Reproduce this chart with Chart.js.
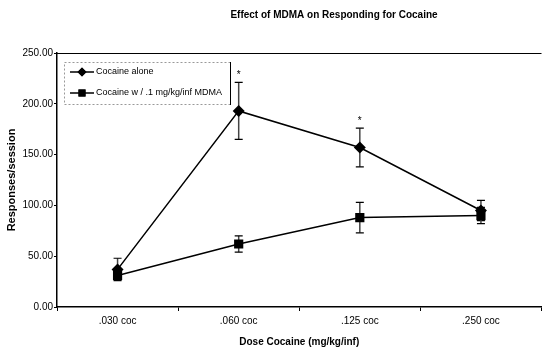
<!DOCTYPE html>
<html>
<head>
<meta charset="utf-8">
<script src="https://cdn.jsdelivr.net/npm/chart.js@4"></script>
<style>
  html, body { margin: 0; padding: 0; background: #fff; }
  #wrap { width: 548px; height: 348px; }
</style>
</head>
<body>
<div id="wrap"><canvas id="chart" width="548" height="348"></canvas></div>
<script>
// data
var doses = ['.030 coc', '.060 coc', '.125 coc', '.250 coc'];
var aloneMean = [37, 193, 157, 95];
var aloneErr = [11, 28, 19, 10];
var mdmaMean = [31, 62, 88, 90];
var mdmaErr = [4, 8, 15, 8];
var starred = [false, true, true, false]; // * marks on Cocaine alone
var yTicks = [0, 50, 100, 150, 200, 250];

var fontName = '"Liberation Sans", Arial, sans-serif';

// error bars + stars, drawn under the markers
var errorBars = {
  id: 'errorBars',
  beforeDatasetsDraw: function(chart) {
    var ctx = chart.ctx;
    var x = chart.scales.x, y = chart.scales.y;
    var sets = [[aloneMean, aloneErr], [mdmaMean, mdmaErr]];
    ctx.save();
    sets.forEach(function(s) {
      for (var i = 0; i < s[0].length; i++) {
        var px = x.getPixelForValue(i);
        var top = y.getPixelForValue(s[0][i] + s[1][i]);
        var bot = y.getPixelForValue(s[0][i] - s[1][i]);
        ctx.strokeStyle = '#444';
        ctx.lineWidth = 1.5;
        ctx.beginPath();
        ctx.moveTo(px, top); ctx.lineTo(px, bot);
        ctx.stroke();
        ctx.strokeStyle = '#000';
        ctx.lineWidth = 1.2;
        ctx.beginPath();
        ctx.moveTo(px - 4, top); ctx.lineTo(px + 4, top);
        ctx.moveTo(px - 4, bot); ctx.lineTo(px + 4, bot);
        ctx.stroke();
      }
    });
    ctx.fillStyle = '#000';
    ctx.font = '10px ' + fontName;
    ctx.textAlign = 'center';
    ctx.textBaseline = 'middle';
    for (var i = 0; i < starred.length; i++) {
      if (!starred[i]) continue;
      var px = x.getPixelForValue(i);
      var top = y.getPixelForValue(aloneMean[i] + aloneErr[i]);
      ctx.fillText('*', px, top - 7);
    }
    ctx.restore();
  }
};

// title, top frame line and the boxed legend
var extras = {
  id: 'extras',
  afterDraw: function(chart) {
    var ctx = chart.ctx;
    var area = chart.chartArea;
    ctx.save();
    ctx.strokeStyle = '#000';
    ctx.lineWidth = 1;
    ctx.beginPath();
    ctx.moveTo(area.left, area.top + 0.5);
    ctx.lineTo(area.right, area.top + 0.5);
    ctx.stroke();

    ctx.fillStyle = '#000';
    ctx.font = 'bold 10px ' + fontName;
    ctx.textAlign = 'center';
    ctx.textBaseline = 'middle';
    ctx.fillText('Effect of MDMA on Responding for Cocaine', 334, 15);

    // legend box
    var bx = 64, by = 62, bw = 166, bh = 42;
    ctx.strokeStyle = '#999';
    ctx.setLineDash([2, 2]);
    ctx.strokeRect(bx + 0.5, by + 0.5, bw, bh);
    ctx.setLineDash([]);
    ctx.strokeStyle = '#000';
    ctx.beginPath();
    ctx.moveTo(bx + bw + 0.5, by); ctx.lineTo(bx + bw + 0.5, by + bh + 1);
    ctx.stroke();

    var items = chart.data.datasets;
    ctx.font = '9px ' + fontName;
    ctx.textAlign = 'left';
    items.forEach(function(ds, k) {
      var ly = 72 + k * 21;
      ctx.strokeStyle = '#000';
      ctx.lineWidth = 1.5;
      ctx.beginPath();
      ctx.moveTo(70, ly); ctx.lineTo(94, ly);
      ctx.stroke();
      ctx.fillStyle = '#000';
      Chart.helpers.drawPoint(ctx, { pointStyle: ds.pointStyle, radius: ds.pointRadius - 1.5, borderWidth: 0 }, 82, ly);
      ctx.fill();
      ctx.fillText(ds.label, 96, ly);
    });
    ctx.restore();
  }
};

var ctx = document.getElementById('chart').getContext('2d');
var myChart = new Chart(ctx, {
  type: 'line',
  data: {
    labels: doses,
    datasets: [{
      label: 'Cocaine alone',
      data: aloneMean,
      borderColor: '#000',
      borderWidth: 1.5,
      backgroundColor: '#000',
      pointStyle: 'rectRot',
      pointRadius: 6,
      pointBorderWidth: 0,
      tension: 0
    }, {
      label: 'Cocaine w / .1 mg/kg/inf MDMA',
      data: mdmaMean,
      borderColor: '#000',
      borderWidth: 1.5,
      backgroundColor: '#000',
      pointStyle: 'rect',
      pointRadius: 6.5,
      pointBorderWidth: 0,
      tension: 0
    }]
  },
  options: {
    responsive: false,
    animation: false,
    layout: { padding: { top: 53, right: 0, left: 0, bottom: 0 } },
    plugins: {
      legend: { display: false },
      tooltip: { enabled: false }
    },
    scales: {
      x: {
        type: 'category',
        offset: true,
        grid: { display: true, drawOnChartArea: false, drawTicks: true, tickLength: 4, color: '#000', offset: true },
        border: { display: true, color: '#000', width: 1.5 },
        ticks: { color: '#000', font: { family: fontName, size: 10 }, padding: 4, maxRotation: 0 },
        title: { display: true, text: 'Dose Cocaine (mg/kg/inf)', color: '#000', font: { family: fontName, size: 10, weight: 'bold' }, padding: { top: 0, bottom: 0 } },
        afterFit: function(scale) { scale.height = 41; }
      },
      y: {
        min: 0,
        max: 250,
        afterBuildTicks: function(scale) {
          scale.ticks = yTicks.map(function(v) { return { value: v }; });
        },
        grid: { display: true, drawOnChartArea: false, drawTicks: true, tickLength: 3, color: '#000' },
        border: { display: true, color: '#000', width: 1.5 },
        ticks: {
          color: '#000',
          font: { family: fontName, size: 10 },
          padding: 1,
          callback: function(v) { return Number(v).toFixed(2); }
        },
        title: { display: true, text: 'Responses/session', color: '#000', font: { family: fontName, size: 11, weight: 'bold' }, padding: { top: 5, bottom: 0 } },
        afterFit: function(scale) { scale.width = 57; }
      }
    }
  },
  plugins: [errorBars, extras]
});
</script>
</body>
</html>
